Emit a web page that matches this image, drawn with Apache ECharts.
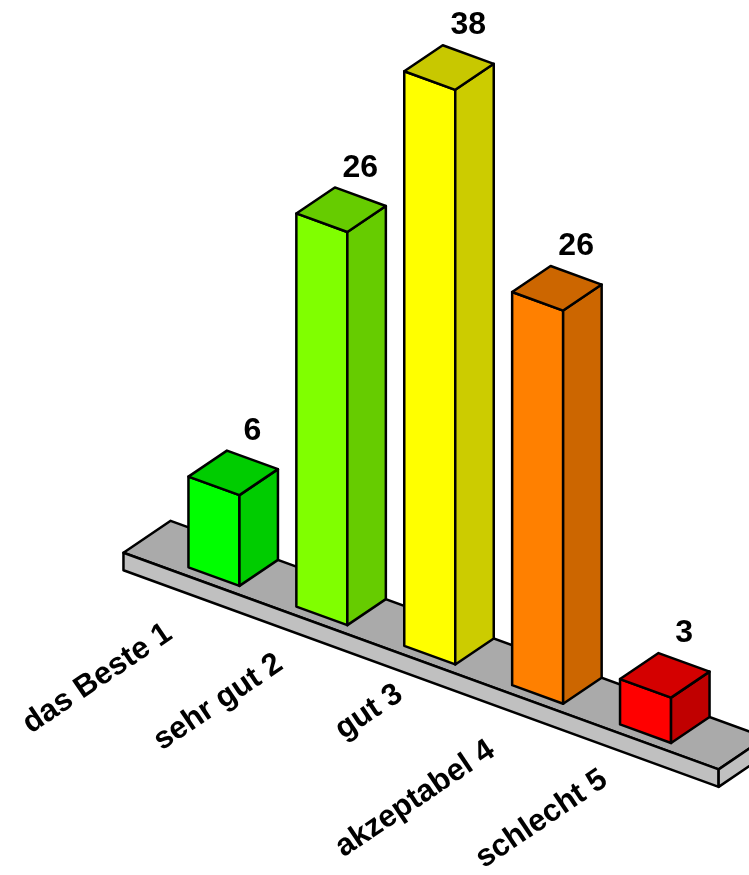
<!DOCTYPE html>
<html>
<head>
<meta charset="utf-8">
<title>Bewertung</title>
<script src="https://cdn.jsdelivr.net/npm/echarts@6/dist/echarts.min.js"></script>
<style>
  html, body { margin: 0; padding: 0; background: #ffffff; }
  #main { width: 749px; height: 875px; }
</style>
</head>
<body>
<div id="main"></div>
<script>
// Rating categories and number of answers per category
const categories = ['das Beste 1', 'sehr gut 2', 'gut 3', 'akzeptabel 4', 'schlecht 5'];
const values = [6, 26, 38, 26, 3];

// Face colours of each block: front, top, right side
const frontColors = ['#00ff00', '#80ff00', '#ffff00', '#ff8000', '#ff0000'];
const topColors   = ['#00cc00', '#66cc00', '#c8c800', '#cc6600', '#d40000'];
const sideColors  = ['#00cc00', '#66cc00', '#cccc00', '#cc6600', '#c00000'];

// Oblique projection: the category direction drops SLOPE px per px,
// one unit of depth moves the point by DEPTH (screen px).
const SLOPE = 0.364;
const DEPTH = [38.5, -26];
const BAR_HALF = 25.5;          // half width of a block, px
const SLAB_FRONT = -0.226;      // slab front edge, in depth units
const SLAB_BACK = 1.0;          // slab back edge, in depth units
const SLAB_THICK = 17.5;        // slab thickness, px
const SLAB_OVERHANG = 0.758;    // slab extends this many bands past outer blocks
const LABEL_ROT = 34 * Math.PI / 180;
// end point of each category label, relative to the block's front foot
const labelNudge = [[-45, 54], [-42, 45], [-30, 36], [-46, 53], [-41, 43]];

const OUTLINE = { stroke: '#000000', lineWidth: 2.5, lineJoin: 'round' };

function project(origin, x, h, d) {
  return [
    x + d * DEPTH[0],
    origin[1] + (x - origin[0]) * SLOPE - h + d * DEPTH[1]
  ];
}

function face(points, fill) {
  return { type: 'polygon', shape: { points: points }, style: Object.assign({ fill: fill }, OUTLINE) };
}

function renderSlab(params, api) {
  const origin = api.coord([0, 0]);
  const last = api.coord([categories.length - 1, 0]);
  const band = api.size([1, 0])[0];
  const x0 = origin[0] - SLAB_OVERHANG * band;
  const x1 = last[0] + SLAB_OVERHANG * band;
  const P = (x, h, d) => project(origin, x, h, d);
  const t = -SLAB_THICK;
  return {
    type: 'group',
    children: [
      face([P(x0, 0, SLAB_FRONT), P(x1, 0, SLAB_FRONT), P(x1, 0, SLAB_BACK), P(x0, 0, SLAB_BACK)], '#aaaaaa'),
      face([P(x0, 0, SLAB_FRONT), P(x1, 0, SLAB_FRONT), P(x1, t, SLAB_FRONT), P(x0, t, SLAB_FRONT)], '#c0c0c0'),
      face([P(x1, 0, SLAB_FRONT), P(x1, 0, SLAB_BACK), P(x1, t, SLAB_BACK), P(x1, t, SLAB_FRONT)], '#c0c0c0')
    ]
  };
}

function renderBar(params, api) {
  const i = api.value(0);
  const v = api.value(1);
  const origin = api.coord([0, 0]);
  const foot = api.coord([i, 0]);
  const head = api.coord([i, v]);
  const h = foot[1] - head[1];
  const xl = foot[0] - BAR_HALF;
  const xr = foot[0] + BAR_HALF;
  const P = (x, hh, d) => project(origin, x, hh, d);
  const backMid = P(foot[0], h, 1);
  const base = P(foot[0], 0, 0);
  const nudge = labelNudge[i];
  return {
    type: 'group',
    children: [
      face([P(xl, 0, 0), P(xr, 0, 0), P(xr, h, 0), P(xl, h, 0)], frontColors[i]),
      face([P(xr, 0, 0), P(xr, 0, 1), P(xr, h, 1), P(xr, h, 0)], sideColors[i]),
      face([P(xl, h, 0), P(xr, h, 0), P(xr, h, 1), P(xl, h, 1)], topColors[i]),
      {
        type: 'text',
        x: backMid[0],
        y: backMid[1] - 29,
        style: {
          text: String(v),
          font: 'bold 32px "Liberation Sans", Arial, sans-serif',
          fill: '#000000',
          align: 'center',
          verticalAlign: 'middle'
        }
      },
      {
        type: 'text',
        x: base[0] + nudge[0],
        y: base[1] + nudge[1],
        rotation: LABEL_ROT,
        style: {
          text: categories[i],
          font: 'bold 31px "Liberation Sans", Arial, sans-serif',
          fill: '#000000',
          align: 'right',
          verticalAlign: 'middle'
        }
      }
    ]
  };
}

const chart = echarts.init(document.getElementById('main'), null, { renderer: 'canvas' });
chart.setOption({
  animation: false,
  backgroundColor: '#ffffff',
  grid: { left: 160, right: 49.5, top: 2, bottom: 298.4 },
  xAxis: { type: 'category', data: categories, show: false },
  yAxis: { type: 'value', min: 0, max: 38, show: false },
  series: [
    {
      type: 'custom',
      renderItem: renderSlab,
      data: [[0, 0]],
      clip: false,
      silent: true,
      z: 1
    },
    {
      type: 'custom',
      renderItem: renderBar,
      data: values.map((v, i) => [i, v]),
      clip: false,
      silent: true,
      z: 2
    }
  ]
});
</script>
</body>
</html>
